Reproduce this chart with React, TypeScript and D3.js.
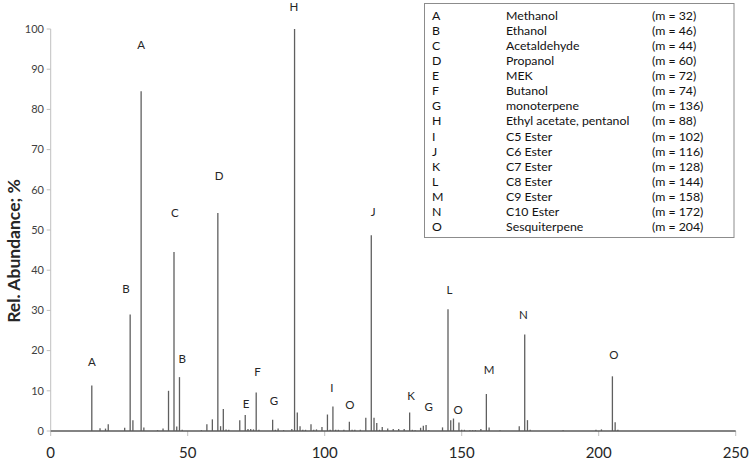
import React from "react";
import * as d3 from "d3";

// Peak masses (m/z) and relative abundances (%)
const peakMass = [15, 18, 20, 21, 27, 29, 30, 33, 34, 39, 41, 43, 45, 46, 47, 48, 55, 57, 59, 61, 62, 63, 64, 65, 69, 71, 72, 73, 74, 75, 76, 81, 82, 83, 85, 88, 89, 90, 91, 92, 93, 95, 96, 97, 99, 101, 102, 103, 104, 105, 107, 109, 110, 111, 113, 115, 117, 118, 119, 120, 121, 123, 125, 127, 129, 131, 132, 133, 135, 136, 137, 138, 143, 145, 146, 147, 149, 150, 151, 153, 154, 155, 157, 159, 160, 164, 171, 173, 174, 175, 187, 199, 201, 205, 206, 207];
const peakAbund = [11.3, 0.7, 0.6, 1.7, 0.8, 29.0, 2.7, 84.5, 0.9, 0.2, 0.6, 10.0, 44.5, 1.1, 13.4, 0.3, 0.2, 1.7, 2.9, 54.2, 1.2, 5.5, 0.4, 0.3, 2.7, 4.0, 0.5, 0.5, 0.4, 9.6, 0.3, 2.8, 0.3, 0.6, 0.2, 0.5, 100, 4.6, 1.2, 0.3, 0.3, 1.7, 0.3, 0.4, 1.0, 4.1, 0.3, 6.1, 0.3, 0.3, 0.3, 2.3, 0.3, 0.3, 0.3, 3.3, 48.7, 3.3, 2.0, 0.3, 1.0, 0.6, 0.5, 0.5, 0.5, 4.6, 0.3, 0.2, 0.8, 1.3, 1.5, 0.2, 0.9, 30.3, 2.7, 3.1, 2.1, 0.3, 0.3, 0.2, 0.2, 0.2, 0.5, 9.2, 0.9, 0.2, 1.2, 24.0, 2.7, 0.3, 0.2, 0.3, 0.4, 13.6, 2.2, 0.3];

// Peak annotation letters, their x (mass) and y (abundance level)
const annLetter = ["A", "B", "A", "C", "B", "D", "E", "F", "G", "H", "I", "O", "J", "K", "G", "L", "O", "M", "N", "O"];
const annMass = [15, 27.5, 33, 45.3, 48, 61.5, 71.3, 75.5, 81.5, 88.8, 102.6, 109.2, 117.7, 131.5, 138, 145.5, 148.7, 160, 172.5, 205.5];
const annLevel = [17.2, 35.3, 96, 54.2, 17.9, 63.4, 6.7, 14.7, 7.5, 105.6, 10.7, 6.5, 54.5, 8.7, 6, 35.1, 5.2, 15.2, 28.9, 18.9];

// Legend
const legLetter = ["A", "B", "C", "D", "E", "F", "G", "H", "I", "J", "K", "L", "M", "N", "O"];
const legName = ["Methanol", "Ethanol", "Acetaldehyde", "Propanol", "MEK", "Butanol", "monoterpene", "Ethyl acetate, pentanol", "C5 Ester", "C6 Ester", "C7 Ester", "C8 Ester", "C9 Ester", "C10 Ester", "Sesquiterpene"];
const legMass = [32, 46, 44, 60, 72, 74, 136, 88, 102, 116, 128, 144, 158, 172, 204];

const xTicks = [0, 50, 100, 150, 200, 250];
const yTicks = [0, 10, 20, 30, 40, 50, 60, 70, 80, 90, 100];

const FONT = "Lato, 'Open Sans', sans-serif";

export default function App() {
  const W = 750, H = 460;
  const x = d3.scaleLinear().domain([0, 250]).range([50.7, 735.7]);
  const y = d3.scaleLinear().domain([0, 100]).range([431, 29]);

  return (
    <svg width={W} height={H} style={{ position: "absolute", left: 0, top: 0, background: "#fff" }} fontFamily={FONT}>
      {/* y axis */}
      <line x1={x(0)} x2={x(0)} y1={y(0)} y2={y(100)} stroke="#c0c0c0" strokeWidth={1} />
      {yTicks.map((t) => (
        <g key={"yt" + t}>
          <line x1={x(0) - 4} x2={x(0)} y1={y(t)} y2={y(t)} stroke="#c0c0c0" strokeWidth={1} />
          <text x={44} y={y(t)} dy="0.35em" textAnchor="end" fontSize={11} fill="#404040">{t}</text>
        </g>
      ))}
      <text transform={`translate(14,${(y(0) + y(100)) / 2 + 21}) rotate(-90)`} dy="0.35em" textAnchor="middle" fontSize={17.5} fontWeight="bold" fill="#262626">Rel. Abundance; %</text>

      {/* x ticks */}
      {xTicks.map((t) => (
        <g key={"xt" + t}>
          <line x1={x(t)} x2={x(t)} y1={y(0)} y2={y(0) + 5} stroke="#c0c0c0" strokeWidth={1} />
          <text x={x(t)} y={453} dy="0.35em" textAnchor="middle" fontSize={15} fill="#262626">{t}</text>
        </g>
      ))}

      {/* peaks */}
      {peakMass.map((m, i) => (
        <line key={"p" + i} x1={x(m)} x2={x(m)} y1={y(0)} y2={y(peakAbund[i])} stroke="#5f5f5f" strokeWidth={1.3} />
      ))}
      {/* baseline */}
      <line x1={x(0)} x2={x(250)} y1={y(0)} y2={y(0)} stroke="#5a5a5a" strokeWidth={1.4} />

      {/* annotations */}
      {annLetter.map((l, i) => (
        <text key={"a" + i} x={x(annMass[i])} y={y(annLevel[i])} dy="0.35em" textAnchor="middle" fontSize={11.5} fill="#262626">{l}</text>
      ))}

      {/* legend */}
      <rect x={424.5} y={3.5} width={309.5} height={234} fill="#fff" stroke="#8c8c8c" strokeWidth={1} />
      {legLetter.map((l, i) => {
        const cy = 15.7 + i * 15.07;
        return (
          <g key={"lg" + i} fontSize={12.3} fill="#111">
            <text x={432} y={cy} dy="0.35em">{l}</text>
            <text x={506} y={cy} dy="0.35em">{legName[i]}</text>
            <text x={652} y={cy} dy="0.35em">{`(m = ${legMass[i]})`}</text>
          </g>
        );
      })}
    </svg>
  );
}
